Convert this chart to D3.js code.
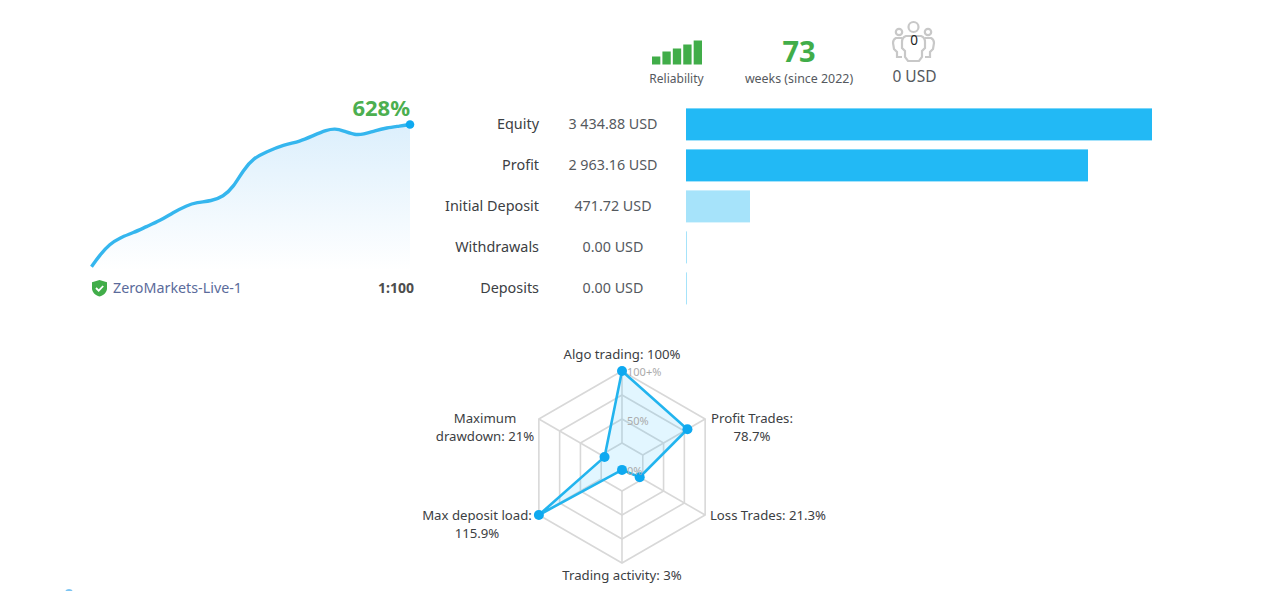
<!DOCTYPE html>
<html>
<head>
<meta charset="utf-8">
<script src="https://d3js.org/d3.v7.min.js"></script>
<style>
html, body { margin: 0; padding: 0; background: #fff; overflow: hidden; }
svg { display: block; }
text { font-family: "Noto Sans", "DejaVu Sans", sans-serif; }
</style>
</head>
<body>
<div id="graphic"></div>
<script>
var W = 1272, H = 591;

// growth curve
var growthWeeks = [0, 1.9, 4.2, 6.5, 9.6, 12.6, 15.7, 18.7, 21.8, 24.1, 27.5, 30.2, 32.5, 34.8, 37.1, 40.1, 44, 47.8, 50.8, 53.9, 55.8, 57.7, 60.4, 62.3, 65, 67.6, 70.7, 73];
var growthValues = [0, 52, 100, 128, 150, 177, 203, 239, 270, 284, 290, 310, 351, 427, 479, 507, 538, 553, 579, 604, 610, 601, 581, 585, 601, 613, 621, 628];

// balance bars
var barLabels = ["Equity", "Profit", "Initial Deposit", "Withdrawals", "Deposits"];
var barValues = [3434.88, 2963.16, 471.72, 0, 0];
var barTexts = ["3 434.88 USD", "2 963.16 USD", "471.72 USD", "0.00 USD", "0.00 USD"];

// radar
var radarLabels = [["Algo trading: 100%"], ["Profit Trades:", "78.7%"], ["Loss Trades: 21.3%"], ["Trading activity: 3%"], ["Max deposit load:", "115.9%"], ["Maximum", "drawdown: 21%"]];
var radarValues = [100, 78.7, 21.3, 3, 115.9, 21];
var radarRings = [25, 50, 75, 100];
var radarTicks = ["0%", "50%", "100+%"];

// reliability signal
var signalLevels = [1, 2, 3, 4, 5];
var signalHeights = [8, 13, 16, 20, 24];

var svg = d3.select("#graphic").append("svg")
    .attr("width", W)
    .attr("height", H);

var defs = svg.append("defs");
var grad = defs.append("linearGradient")
    .attr("id", "areaFill")
    .attr("x1", 0).attr("y1", 0).attr("x2", 0).attr("y2", 1);
grad.append("stop").attr("offset", "0%").attr("stop-color", "#dceffc");
grad.append("stop").attr("offset", "100%").attr("stop-color", "#ffffff");

//---------- header ----------
var signalX = d3.scaleBand().domain(signalLevels).range([652, 702]).paddingInner(0.2);
var signalY = d3.scaleLinear().domain([0, 24]).range([64.5, 40.5]);
svg.selectAll(".signal")
    .data(signalLevels)
    .enter()
    .append("rect")
    .attr("class", "signal")
    .attr("x", function(d) { return signalX(d); })
    .attr("width", signalX.bandwidth())
    .attr("y", function(d, i) { return signalY(signalHeights[i]); })
    .attr("height", function(d, i) { return signalY(0) - signalY(signalHeights[i]); })
    .attr("fill", "#41ad49");

function label(x, y, str, size, color, anchor, weight) {
    return svg.append("text")
        .attr("x", x).attr("y", y)
        .attr("font-size", size)
        .attr("fill", color)
        .attr("text-anchor", anchor || "middle")
        .attr("font-weight", weight || "normal")
        .text(str);
}

label(676.5, 83, "Reliability", 12, "#55595e");
label(799, 62, "73", 29, "#41ad49", "middle", "bold");
label(799, 83, "weeks (since 2022)", 12.4, "#55595e");
label(914.5, 82, "0 USD", 15.5, "#55595e");

// subscribers icon
var people = svg.append("g")
    .attr("fill", "none")
    .attr("stroke", "#c8c8c8")
    .attr("stroke-width", 2.2);
people.append("circle").attr("cx", 913.5).attr("cy", 27).attr("r", 5);
people.append("circle").attr("cx", 899).attr("cy", 32).attr("r", 3.2);
people.append("circle").attr("cx", 928).attr("cy", 32).attr("r", 3.2);
people.append("path").attr("d", "M906 36c-3 1-4 3-4 6v6l3 3v6l3 4h11l3-4v-6l3-3v-6c0-3-1-5-4-6z");
people.append("path").attr("d", "M902 38h-6c-2 1-3 3-3 5l1 6 3 3v5h5");
people.append("path").attr("d", "M925 38h6c2 1 3 3 3 5l-1 6-3 3v5h-5");
label(914, 45, "0", 13.5, "#222");

//---------- growth chart ----------
var growthX = d3.scaleLinear().domain([0, 73]).range([91.5, 410]);
var growthY = d3.scaleLinear().domain([0, 628]).range([266.7, 124.5]);
var curve = d3.curveBasis;

var area = d3.area()
    .x(function(d, i) { return growthX(growthWeeks[i]); })
    .y0(growthY(0) + 4)
    .y1(function(d) { return growthY(d); })
    .curve(curve);
var line = d3.line()
    .x(function(d, i) { return growthX(growthWeeks[i]); })
    .y(function(d) { return growthY(d); })
    .curve(curve);

svg.append("path").datum(growthValues).attr("d", area).attr("fill", "url(#areaFill)");
svg.append("path").datum(growthValues).attr("d", line)
    .attr("fill", "none")
    .attr("stroke", "#35b6ee")
    .attr("stroke-width", 3.4);
svg.append("circle")
    .attr("cx", growthX(73))
    .attr("cy", growthY(628))
    .attr("r", 4.3)
    .attr("fill", "#0ea9f0");

label(410, 116, "628%", 22, "#4caf50", "end", "bold");

// shield icon
svg.append("path")
    .attr("d", "M99.5 280l7.5 2.2v6c0 4-3.2 7-7.5 8.3-4.3-1.3-7.5-4.3-7.5-8.3v-6z")
    .attr("fill", "#41ad49");
svg.append("path")
    .attr("d", "M96 288l2.7 2.7 4.5-4.7")
    .attr("fill", "none")
    .attr("stroke", "#fff")
    .attr("stroke-width", 1.8);
label(113, 293, "ZeroMarkets-Live-1", 14.3, "#5b6b9b", "start");
label(414, 293, "1:100", 14, "#4d4d4d", "end", "bold");

//---------- balance bars ----------
var barX = d3.scaleLinear().domain([0, 3434.88]).range([0, 466]);
var barY = d3.scaleBand().domain(barLabels).range([108.4, 304.4]).paddingInner(9 / 41).paddingOuter(0);

svg.selectAll(".bar")
    .data(barValues)
    .enter()
    .append("rect")
    .attr("class", "bar")
    .attr("x", 686)
    .attr("y", function(d, i) { return barY(barLabels[i]); })
    .attr("width", function(d) { return Math.max(barX(d), 1); })
    .attr("height", barY.bandwidth())
    .attr("fill", function(d, i) { return i < 2 ? "#22b9f5" : "#a6e3fa"; });

barLabels.forEach(function(d, i) {
    var yy = barY(d) + barY.bandwidth() / 2 + 5;
    label(539, yy, d, 14.4, "#3c4043", "end");
    label(613, yy, barTexts[i], 14.3, "#55595e");
});

//---------- radar ----------
var cx = 622, cy = 467;
var radarR = d3.scaleLinear().domain([0, 100]).range([0, 96]).clamp(true);
var angle = d3.scalePoint().domain(d3.range(6)).range([0, 300]);

function polar(i, v) {
    var a = angle(i) * Math.PI / 180;
    return [cx + radarR(v) * Math.sin(a), cy - radarR(v) * Math.cos(a)];
}

var radarLine = d3.line().curve(d3.curveLinearClosed);

svg.selectAll(".ring")
    .data(radarRings)
    .enter()
    .append("path")
    .attr("class", "ring")
    .attr("d", function(r) { return radarLine(d3.range(6).map(function(i) { return polar(i, r); })); })
    .attr("fill", "none")
    .attr("stroke", "#d8d8d8")
    .attr("stroke-width", 1.6);

svg.selectAll(".spoke")
    .data(d3.range(6))
    .enter()
    .append("line")
    .attr("class", "spoke")
    .attr("x1", function(i) { return polar(i, radarRings[0])[0]; })
    .attr("y1", function(i) { return polar(i, radarRings[0])[1]; })
    .attr("x2", function(i) { return polar(i, 100)[0]; })
    .attr("y2", function(i) { return polar(i, 100)[1]; })
    .attr("stroke", "#d8d8d8")
    .attr("stroke-width", 1.6);

var radarPts = radarValues.map(function(v, i) { return polar(i, v); });

svg.append("path")
    .attr("d", radarLine(radarPts))
    .attr("fill", "#22bdfc")
    .attr("fill-opacity", 0.13)
    .attr("stroke", "#22b4ee")
    .attr("stroke-width", 2.6);

svg.selectAll(".dot")
    .data(radarPts)
    .enter()
    .append("circle")
    .attr("class", "dot")
    .attr("cx", function(d) { return d[0]; })
    .attr("cy", function(d) { return d[1]; })
    .attr("r", 5)
    .attr("fill", "#0ea9f0");

label(627, 475, radarTicks[0], 11, "#aaaaaa", "start");
label(627, 425, radarTicks[1], 11, "#aaaaaa", "start");
label(627, 376, radarTicks[2], 11, "#aaaaaa", "start");

// label centre x and first baseline for each axis
var radarLabelX = [622, 752, 768, 622, 477, 485];
var radarLabelY = [359, 423, 520, 580, 520, 423];
radarLabels.forEach(function(lines, i) {
    lines.forEach(function(s, j) {
        label(radarLabelX[i], radarLabelY[i] + j * 18, s, 13.2, "#3c4043");
    });
});

// stray blue mark at the bottom edge of the screenshot
svg.append("circle").attr("cx", 69).attr("cy", 593).attr("r", 4).attr("fill", "#7cc4f2");
</script>
</body>
</html>
